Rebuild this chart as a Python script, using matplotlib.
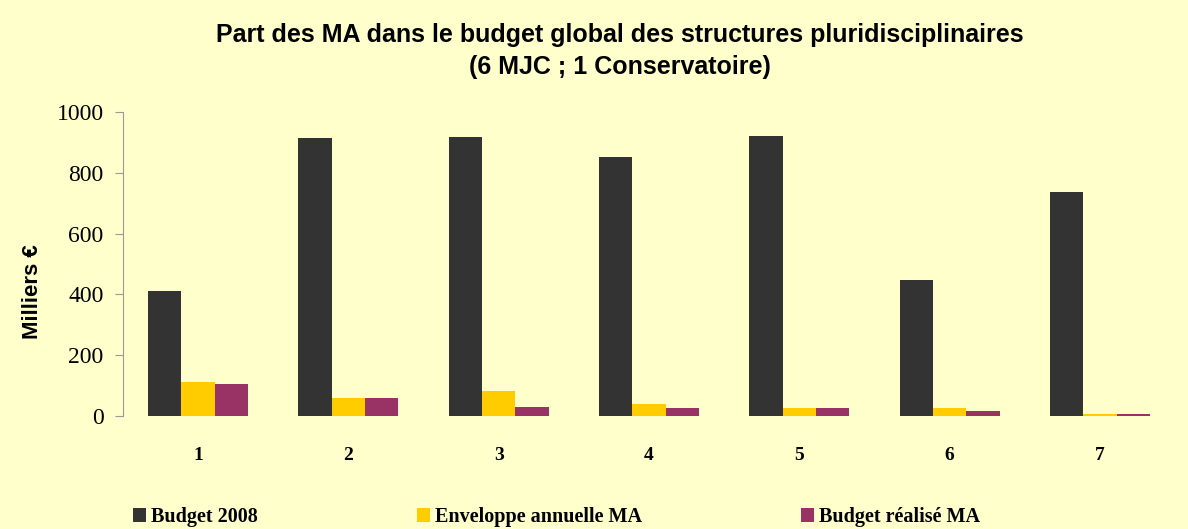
import matplotlib
matplotlib.use("Agg")
import matplotlib.pyplot as plt
import numpy as np

categories = ["1", "2", "3", "4", "5", "6", "7"]
budget_2008 = [411, 914, 918, 852, 921, 447, 737]
enveloppe_ma = [112, 59, 82, 39, 26, 26, 7]
budget_realise_ma = [105, 59, 30, 26, 26, 16, 7]
series_names = ["Budget 2008", "Enveloppe annuelle MA", "Budget réalisé MA"]
colors = ["#333333", "#FFCC00", "#993366"]
bg = "#FFFFCC"

W, H = 1188, 529
fig = plt.figure(figsize=(W / 100, H / 100), dpi=100, facecolor=bg)
ax = fig.add_axes([123 / W, 1 - 416 / H, (1175 - 123) / W, (416 - 112) / H], facecolor=bg)

x = np.arange(len(categories))
w = 0.222
for i, (vals, name, c) in enumerate(zip([budget_2008, enveloppe_ma, budget_realise_ma], series_names, colors)):
    ax.bar(x + (i - 1) * w, vals, width=w, color=c, label=name, linewidth=0)

ax.set_xlim(-0.5, len(categories) - 0.5)
ax.set_ylim(0, 1000)
ax.set_yticks([0, 200, 400, 600, 800, 1000])
ax.set_xticks(x)
ax.set_xticklabels(categories, fontfamily="Liberation Serif", fontweight="bold", fontsize=14)
for lab in ax.get_yticklabels():
    lab.set_fontfamily("Liberation Serif")
    lab.set_fontsize(17)
ax.tick_params(axis="x", length=0, pad=22)
ax.tick_params(axis="y", length=6, color="#999999", width=0.8, pad=8)
for s in ["top", "right", "bottom"]:
    ax.spines[s].set_visible(False)
ax.spines["left"].set_color("#999999")
ax.spines["left"].set_linewidth(0.8)

fig.text(32 / W, 1 - 292 / H, "Milliers €", rotation=90, ha="center", va="center",
         fontfamily="Liberation Sans", fontweight="bold", fontsize=16)

fig.text(620 / W, 1 - 35 / H, "Part des MA dans le budget global des structures pluridisciplinaires",
         ha="center", va="center", fontfamily="Liberation Sans", fontweight="bold", fontsize=18)
fig.text(620 / W, 1 - 67 / H, "(6 MJC ; 1 Conservatoire)",
         ha="center", va="center", fontfamily="Liberation Sans", fontweight="bold", fontsize=18)

leg = fig.legend(loc="center left", bbox_to_anchor=(133 / W, 1 - 517 / H), ncol=3, frameon=False,
                 borderaxespad=0, borderpad=0,
                 prop={"family": "Liberation Serif", "weight": "bold", "size": 14.5},
                 handlelength=0.65, handleheight=0.65, handletextpad=0.25, columnspacing=7.9)

fig.savefig("out.png", dpi=100, facecolor=bg)
